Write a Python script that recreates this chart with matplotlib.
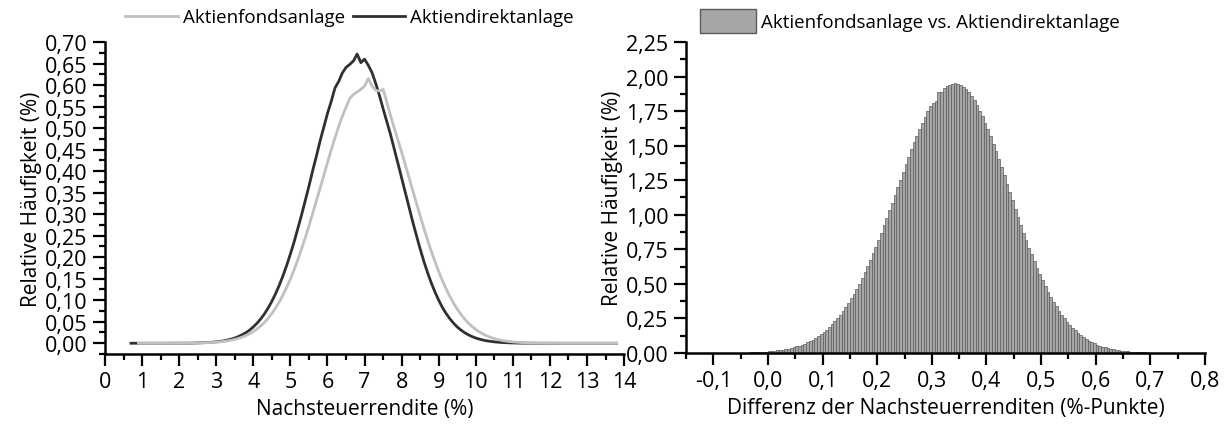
import numpy as np
import matplotlib
matplotlib.use("Agg")
import matplotlib.pyplot as plt
from matplotlib.ticker import MultipleLocator, FuncFormatter
from matplotlib.patches import Patch

# after-tax return grid (%) for the two relative frequency curves
rendite = np.round(np.arange(0.7, 13.85, 0.1), 1)

# Aktiendirektanlage, relative frequency (%)
direkt = [0, 0, 0, 0, 0, 0, 0, 0, 0, 0, 0, 0.0001, 0, 0.0002, 0.0001, 0.0002,
          0.0003, 0.0005, 0.0008, 0.0010, 0.0014, 0.0018, 0.0025, 0.0032, 0.0044, 0.0056,
          0.0074, 0.0096, 0.0122, 0.0156, 0.0198, 0.0247, 0.0307, 0.0380, 0.0466, 0.0566,
          0.0684, 0.0820, 0.0975, 0.1152, 0.1350, 0.1570, 0.1812, 0.2076, 0.2356, 0.2664,
          0.2980, 0.3318, 0.3652, 0.4010, 0.4346, 0.4700, 0.5018, 0.5342, 0.5618, 0.5930,
          0.6080, 0.6280, 0.6410, 0.6480, 0.6560, 0.6720, 0.6520, 0.6600, 0.6460, 0.6290,
          0.6040, 0.5760, 0.5450, 0.5150, 0.4850, 0.4520, 0.4180, 0.3840, 0.3500, 0.3160,
          0.2820, 0.2500, 0.2190, 0.1900, 0.1640, 0.1400, 0.1190, 0.1000, 0.0830, 0.0690,
          0.0570, 0.0466, 0.0378, 0.0306, 0.0246, 0.0196, 0.0155, 0.0121, 0.0095, 0.0073,
          0.0056, 0.0043, 0.0032, 0.0024, 0.0018, 0.0013, 0.0010, 0.0007, 0.0005, 0.0003,
          0.0002, 0.0002, 0.0001, 0.0001,
          0, 0, 0, 0, 0, 0, 0, 0, 0, 0, 0, 0, 0, 0, 0, 0, 0, 0, 0, 0, 0, 0]

# Aktienfondsanlage, relative frequency (%)
fonds = [np.nan, np.nan, 0, 0, 0, 0, 0, 0, 0, 0, 0, 0, 0, 0, 0,
         0.0002, 0.0003, 0.0004, 0.0006, 0.0008, 0.0011, 0.0014, 0.0019, 0.0025, 0.0033,
         0.0043, 0.0055, 0.0071, 0.0090, 0.0114, 0.0143, 0.0178, 0.0221, 0.0272, 0.0332,
         0.0403, 0.0486, 0.0582, 0.0693, 0.0819, 0.0961, 0.1122, 0.1300, 0.1495, 0.1709,
         0.1940, 0.2188, 0.2451, 0.2728, 0.3015, 0.3308, 0.3600, 0.3902, 0.4200, 0.4492,
         0.4770, 0.5033, 0.5272, 0.5485, 0.5690, 0.5780, 0.5840, 0.5900, 0.5980, 0.6150,
         0.5980, 0.5880, 0.5860, 0.5900, 0.5600, 0.5290, 0.5000, 0.4720, 0.4440, 0.4141,
         0.3840, 0.3534, 0.3251, 0.2957, 0.2671, 0.2398, 0.2137, 0.1893, 0.1665, 0.1454,
         0.1262, 0.1088, 0.0932, 0.0792, 0.0670, 0.0562, 0.0468, 0.0388, 0.0319, 0.0261,
         0.0212, 0.0171, 0.0136, 0.0108, 0.0086, 0.0067, 0.0052, 0.0040, 0.0031, 0.0024,
         0.0018, 0.0013, 0.0010, 0.0007, 0.0005, 0.0004, 0.0003, 0.0002, 0.0001, 0.0001,
         0, 0, 0, 0, 0, 0, 0, 0, 0, 0, 0, 0, 0, 0, 0, 0, 0]

# difference of after-tax returns (percentage points), bins of 0.005 from -0.1
diff_binbreite = 0.005
diff_start = -0.1
diff_haeufigkeit = [
    0.0003, 0.0004, 0.0005, 0.0006, 0.0007, 0.0009, 0.0011, 0.0013, 0.0016, 0.0019,
    0.0023, 0.0027, 0.0032, 0.0038, 0.0045, 0.0053, 0.0062, 0.0073, 0.0085, 0.0099,
    0.0116, 0.0134, 0.0156, 0.0180, 0.0208, 0.0240, 0.0275, 0.0315, 0.0361, 0.0412,
    0.0469, 0.0533, 0.0604, 0.0683, 0.0771, 0.0868, 0.0975, 0.1093, 0.1223, 0.1365,
    0.1519, 0.1688, 0.1872, 0.2071, 0.2286, 0.2518, 0.2767, 0.3034, 0.3319, 0.3623,
    0.3945, 0.4286, 0.4647, 0.5027, 0.5426, 0.5845, 0.6281, 0.6736, 0.7207, 0.7694,
    0.8197, 0.8712, 0.9239, 0.9776, 1.032, 1.087, 1.143, 1.200, 1.255, 1.311,
    1.366, 1.420, 1.473, 1.524, 1.573, 1.621, 1.666, 1.709, 1.749, 1.786,
    1.810, 1.820, 1.890, 1.890, 1.917, 1.932, 1.942, 1.948,
    1.950, 1.947, 1.939, 1.926, 1.909, 1.886, 1.860, 1.829, 1.793, 1.754,
    1.712, 1.666, 1.618, 1.567, 1.514, 1.459, 1.402, 1.344, 1.285, 1.224,
    1.164, 1.104, 1.044, 0.9863, 0.9267, 0.8707, 0.8158, 0.7629, 0.7128, 0.6620,
    0.6150, 0.5690, 0.5250, 0.4830, 0.4433, 0.4053, 0.3701, 0.3371, 0.3063, 0.2775,
    0.2510, 0.2264, 0.2036, 0.1826, 0.1634, 0.1458, 0.1297, 0.1154, 0.1021, 0.0902,
    0.0795, 0.0699, 0.0613, 0.0536, 0.0468, 0.0406, 0.0353, 0.0305, 0.0263, 0.0226,
    0.0195, 0.0167, 0.0143, 0.0122, 0.0103, 0.0088, 0.0074, 0.0063, 0.0053, 0.0044,
    0.0037, 0.0031, 0.0026, 0.0021, 0.0018, 0.0015]
diff_kanten = np.round(diff_start + diff_binbreite * np.arange(len(diff_haeufigkeit)), 4)

plt.rcParams['font.family'] = ['Open Sans', 'DejaVu Sans']
plt.rcParams['font.size'] = 13.5

GRAU = '#c0c0c0'
DUNKEL = '#303030'


def komma(fmt):
    return FuncFormatter(lambda v, pos: fmt.format(round(v, 6) + 0.0).replace('.', ','))


def achsen_stil(ax):
    for s in ('top', 'right'):
        ax.spines[s].set_visible(False)
    for s in ('left', 'bottom'):
        ax.spines[s].set_linewidth(1.8)
    ax.tick_params(which='major', direction='out', length=8.5, width=1.6, pad=4,
                   labelsize=15.5)
    ax.tick_params(which='minor', direction='out', length=4.5, width=1.6)


fig = plt.figure(figsize=(12.3, 4.31), dpi=100)
ax1 = fig.add_axes([0.0854, 0.1763, 0.4220, 0.7239])
ax2 = fig.add_axes([0.5577, 0.1787, 0.4220, 0.7215])

# left: both return distributions
l_direkt, = ax1.plot(rendite, direkt, color=DUNKEL, lw=2.0)
l_fonds, = ax1.plot(rendite, fonds, color=GRAU, lw=2.0)
ax1.set_xlim(0, 14)
ax1.set_ylim(-0.025, 0.70)
ax1.xaxis.set_major_locator(MultipleLocator(1))
ax1.xaxis.set_minor_locator(MultipleLocator(0.5))
ax1.yaxis.set_major_locator(MultipleLocator(0.05))
ax1.yaxis.set_minor_locator(MultipleLocator(0.025))
ax1.yaxis.set_major_formatter(komma('{:.2f}'))
ax1.set_xlabel('Nachsteuerrendite (%)', fontsize=15, labelpad=4)
ax1.set_ylabel('Relative Häufigkeit (%)', fontsize=15, labelpad=2)
achsen_stil(ax1)

# right: histogram of the return difference
ax2.bar(diff_kanten, diff_haeufigkeit, width=diff_binbreite, align='edge',
        color='#a6a6a6', edgecolor='#5a5a5a', linewidth=0.5)
ax2.set_xlim(-0.15, 0.8)
ax2.set_ylim(0, 2.25)
ax2.xaxis.set_major_locator(MultipleLocator(0.1))
ax2.xaxis.set_minor_locator(MultipleLocator(0.05))
ax2.yaxis.set_major_locator(MultipleLocator(0.25))
ax2.yaxis.set_minor_locator(MultipleLocator(0.125))
ax2.xaxis.set_major_formatter(komma('{:.1f}'))
ax2.yaxis.set_major_formatter(komma('{:.2f}'))
ax2.set_xlabel('Differenz der Nachsteuerrenditen (%-Punkte)', fontsize=15, labelpad=4)
ax2.set_ylabel('Relative Häufigkeit (%)', fontsize=15, labelpad=2)
achsen_stil(ax2)

fig.legend([l_fonds, l_direkt], ['Aktienfondsanlage', 'Aktiendirektanlage'],
           loc='center left', bbox_to_anchor=(125 / 1230, 0.958), ncol=2,
           frameon=False, handlelength=2.8, handletextpad=0.27, columnspacing=0.43,
           borderpad=0, borderaxespad=0)
fig.legend([Patch(facecolor='#a6a6a6', edgecolor='#5a5a5a', linewidth=1)],
           ['Aktienfondsanlage vs. Aktiendirektanlage'],
           loc='center left', bbox_to_anchor=(700 / 1230, 0.949),
           frameon=False, handlelength=3.0, handleheight=1.55, handletextpad=0.27,
           borderpad=0, borderaxespad=0)

fig.savefig('out.png', dpi=100)
